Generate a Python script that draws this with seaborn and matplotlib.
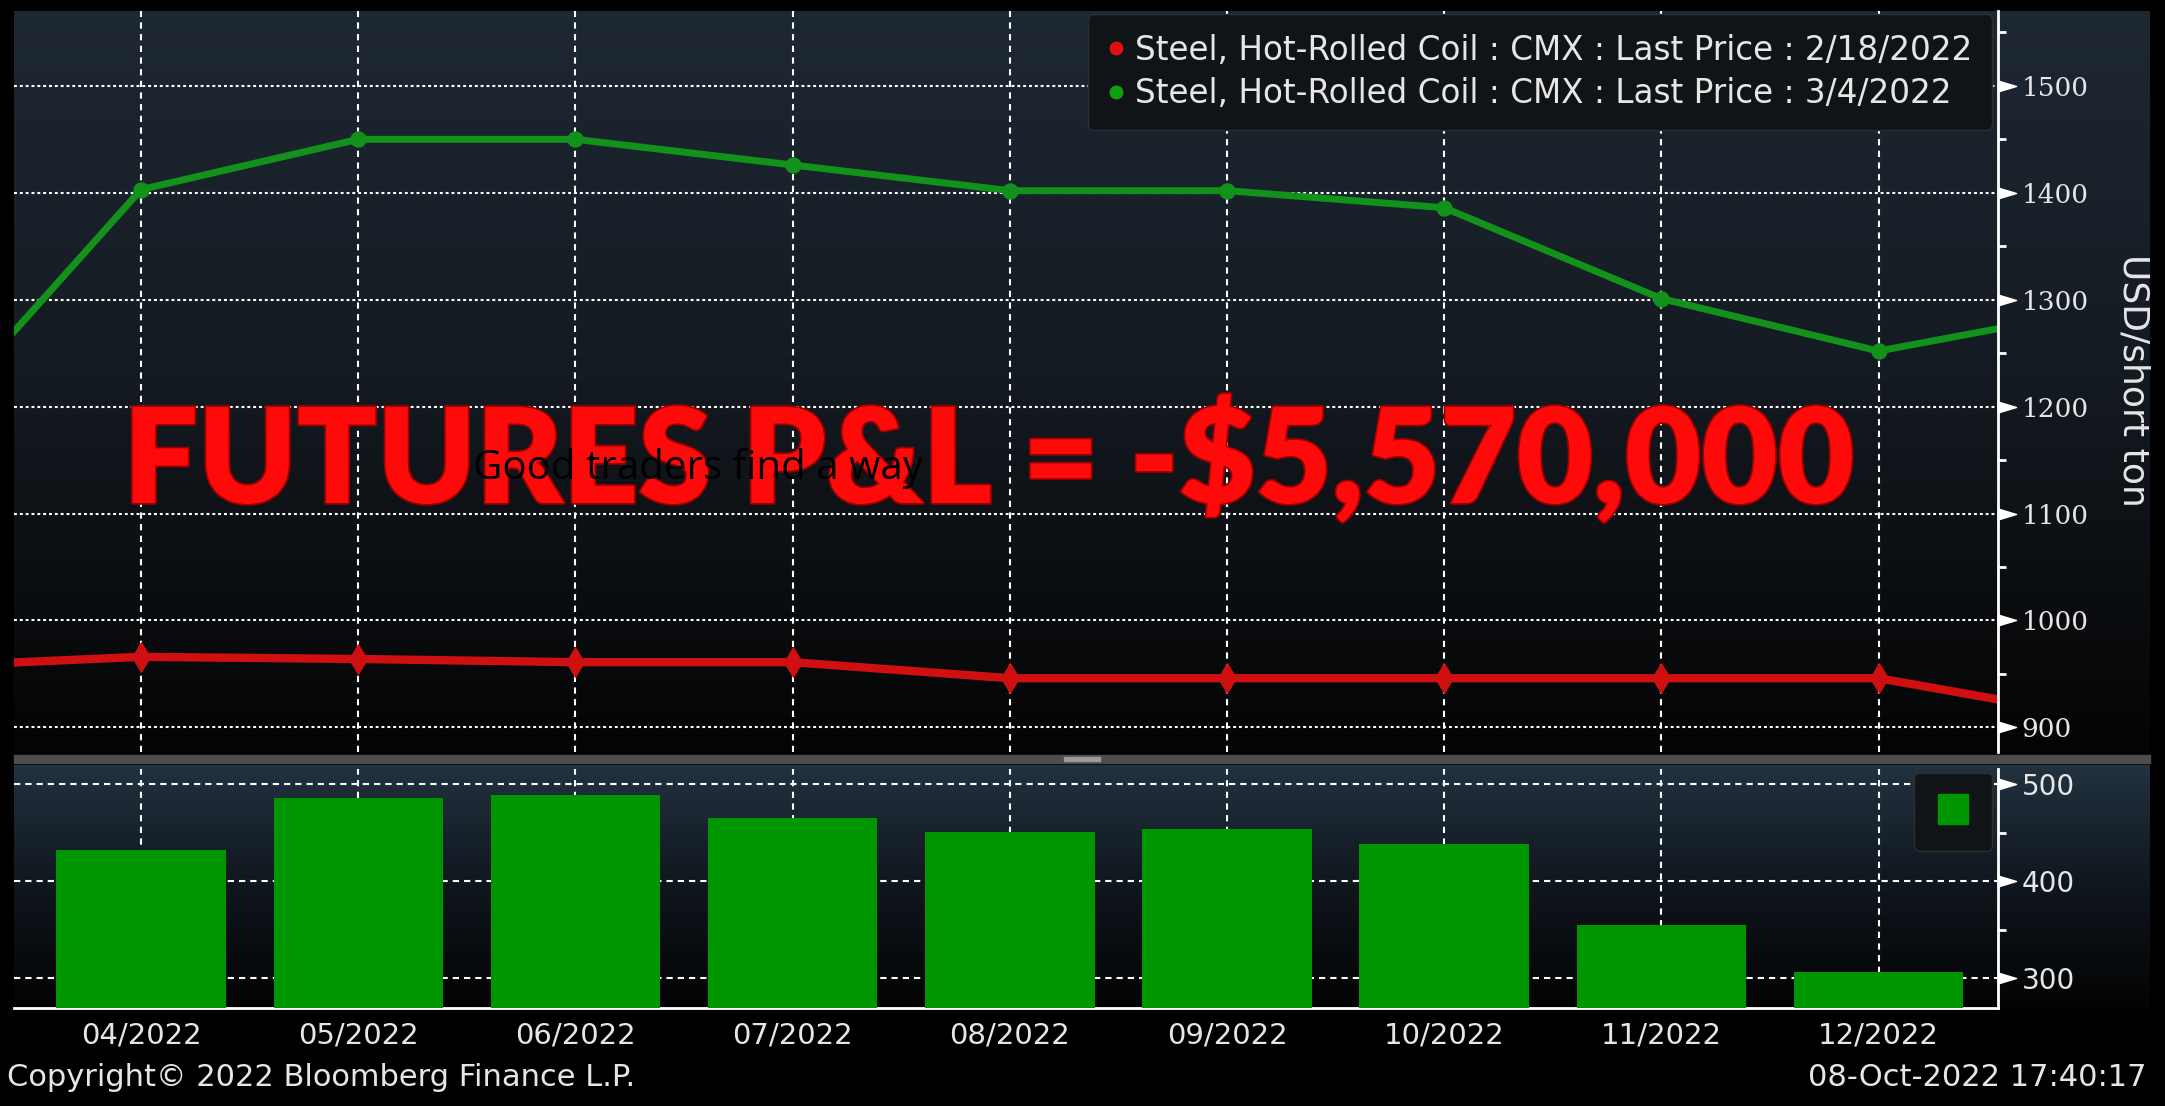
import numpy as np
import pandas as pd
import matplotlib
matplotlib.use("Agg")
import matplotlib.pyplot as plt
import matplotlib.patheffects as pe
import seaborn as sns
from matplotlib.path import Path
from matplotlib.lines import Line2D
from matplotlib.patches import Rectangle
from matplotlib.colors import LinearSegmentedColormap
from matplotlib.transforms import blended_transform_factory

# ---- data ----
contract_months = ["03/2022", "04/2022", "05/2022", "06/2022", "07/2022", "08/2022",
                   "09/2022", "10/2022", "11/2022", "12/2022", "01/2023"]
price_feb18 = [957, 966, 964, 961, 961, 946, 946, 946, 946, 946, 910]
price_mar4 = [1176, 1403, 1450, 1450, 1426, 1402, 1402, 1386, 1301, 1252, 1290]

bar_months = ["04/2022", "05/2022", "06/2022", "07/2022", "08/2022",
              "09/2022", "10/2022", "11/2022", "12/2022"]
spread = [432, 486, 489, 465, 451, 454, 438, 355, 306]

top_ticks = [900, 1000, 1100, 1200, 1300, 1400, 1500]
top_minor = [950, 1050, 1150, 1250, 1350, 1450, 1550]
low_ticks = [300, 400, 500]
low_minor = [350, 450]

legend_labels = ["Steel, Hot-Rolled Coil : CMX : Last Price : 2/18/2022",
                 "Steel, Hot-Rolled Coil : CMX : Last Price : 3/4/2022"]

RED = "#d01010"
GREEN = "#12921a"
BAR_GREEN = "#009600"
TXT = "#e6e6e6"

sns.set_theme(style="dark")
plt.rcParams["font.family"] = ["DejaVu Sans"]

W, H = 2165, 1106
fig = plt.figure(figsize=(W / 100, H / 100), dpi=100, facecolor="black")

# background: gradients + separator, in pixel coords
bg = fig.add_axes([0, 0, 1, 1], zorder=-10)
bg.axis("off")
ramp = np.linspace(0, 1, 256).reshape(-1, 1)
cm_top = LinearSegmentedColormap.from_list("t", ["#1e2833", "#141a21", "#040404"])
cm_low = LinearSegmentedColormap.from_list("l", ["#223240", "#0f161d", "#030303"])
bg.imshow(ramp, extent=(14, 2150, 752, 11), cmap=cm_top, aspect="auto",
          origin="upper", zorder=0)
bg.imshow(ramp, extent=(14, 2150, 1009, 765), cmap=cm_low, aspect="auto",
          origin="upper", zorder=0)
bg.add_patch(Rectangle((14, 755), 2136, 8, color="#4d4d4d", zorder=2))
bg.add_patch(Rectangle((1064, 757), 36, 4, color="#9a9a9a", zorder=3))
bg.set_xlim(0, W)
bg.set_ylim(H, 0)

left = 14 / W
width = (1998 - 14) / W
ax1 = fig.add_axes([left, 1 - 752 / H, width, (752 - 11) / H])
ax2 = fig.add_axes([left, 1 - 1008 / H, width, (1008 - 769) / H])
for ax in (ax1, ax2):
    ax.set_facecolor("none")
    for s in ax.spines.values():
        s.set_visible(False)
    ax.spines["right"].set_visible(True)
    ax.spines["right"].set_color("white")
    ax.spines["right"].set_linewidth(2)
    ax.set_axisbelow(True)

xidx = np.arange(len(contract_months)) - 1
df = pd.DataFrame({"idx": xidx, "feb": price_feb18, "mar": price_mar4})

# ---- top panel: two futures curves ----
sns.lineplot(data=df, x="idx", y="feb", ax=ax1, color=RED, linewidth=6,
             marker="d", markersize=15, markeredgecolor=RED, legend=False)
sns.lineplot(data=df, x="idx", y="mar", ax=ax1, color=GREEN, linewidth=5,
             marker="o", markersize=11, markeredgecolor=GREEN, legend=False)

xlim = (-0.585, 8.55)
ax1.set_xlim(*xlim)
ax1.set_ylim(877, 1570)
ax1.set_xticks(range(len(bar_months)))
ax1.set_xticklabels([])
ax1.set_xlabel("")
ax1.set_ylabel("")
ax1.yaxis.tick_right()
ax1.set_yticks(top_ticks)
ax1.set_yticks(top_minor, minor=True)
ax1.tick_params(axis="x", length=0)
ax1.tick_params(axis="y", which="major", length=0, pad=17, labelsize=19,
                labelcolor=TXT)
ax1.tick_params(axis="y", which="minor", length=6, width=2, color="white",
                direction="out")
for lab in ax1.get_yticklabels():
    lab.set_family("DejaVu Serif")
ax1.yaxis.grid(True, color="white", linestyle=(0, (1.4, 1.4)), linewidth=1.5)
ax1.xaxis.grid(True, color="white", linestyle=(0, (3, 2.6)), linewidth=1.5)

handles = [Line2D([], [], ls="none", marker="o", ms=9, color="#e01010"),
           Line2D([], [], ls="none", marker="o", ms=9, color="#10a010")]
leg = ax1.legend(handles, legend_labels, loc="upper right",
                 bbox_to_anchor=(0.997, 0.996), borderaxespad=0, fontsize=23.5,
                 labelcolor=TXT, facecolor="#111417", edgecolor="#2b2f34",
                 framealpha=1, handlelength=0.5, handletextpad=0.35,
                 labelspacing=0.32, borderpad=0.6, fancybox=True)

# ---- lower panel: spread bars ----
sns.barplot(x=bar_months, y=spread, ax=ax2, color=BAR_GREEN, saturation=1,
            width=0.78, edgecolor=BAR_GREEN, linewidth=0, zorder=3)
ax2.set_xlim(*xlim)
ax2.set_ylim(269, 516)
ax2.set_xlabel("")
ax2.set_ylabel("")
ax2.yaxis.tick_right()
ax2.set_yticks(low_ticks)
ax2.set_yticks(low_minor, minor=True)
ax2.spines["bottom"].set_visible(True)
ax2.spines["bottom"].set_color("white")
ax2.spines["bottom"].set_linewidth(2)
ax2.tick_params(axis="x", length=8, width=1.5, color="white", direction="inout",
                labelsize=21, labelcolor=TXT, pad=6)
ax2.tick_params(axis="y", which="major", length=0, pad=17, labelsize=20,
                labelcolor=TXT)
ax2.tick_params(axis="y", which="minor", length=6, width=2, color="white",
                direction="out")
ax2.yaxis.grid(True, color="white", linestyle=(0, (3, 2.4)), linewidth=1.5)
ax2.xaxis.grid(True, color="white", linestyle=(0, (3, 2.6)), linewidth=1.5)
ax2.legend([Line2D([], [], ls="none", marker="s", ms=21, color=BAR_GREEN)], [""],
           loc="upper right", bbox_to_anchor=(0.997, 0.985), borderaxespad=0,
           facecolor="#111417", edgecolor="#2b2f34", framealpha=1,
           handlelength=1.0, handleheight=1.0, handletextpad=0, borderpad=0.9,
           fontsize=20)

# arrow-shaped major ticks on the right spine
arrow = Path([(0, -0.3), (0, 0.3), (1, 0), (0, -0.3)],
             [Path.MOVETO, Path.LINETO, Path.LINETO, Path.CLOSEPOLY])
for ax, ticks in ((ax1, top_ticks), (ax2, low_ticks)):
    tr = blended_transform_factory(ax.transAxes, ax.transData)
    ax.plot(np.ones(len(ticks)), ticks, transform=tr, ls="none", marker=arrow,
            markersize=26, color="white", clip_on=False, zorder=5)

# ---- texts ----
fig.text(2133 / W, 1 - 380 / H, "USD/short ton", rotation=270, ha="center",
         va="center", fontsize=26, color=TXT)
fig.text(7 / W, 1 - 1077 / H, "Copyright\u00a9 2022 Bloomberg Finance L.P.",
         ha="left", va="center", fontsize=22, color=TXT)
fig.text(2147 / W, 1 - 1077 / H, "08-Oct-2022 17:40:17", ha="right",
         va="center", fontsize=22, color=TXT)

big = fig.text(989 / W, 1 - 503 / H, "FUTURES P&L = -$5,570,000", ha="center",
               va="baseline", fontsize=95, fontweight="heavy", color="#ff0a0a",
               family=["Lato", "DejaVu Sans"], zorder=20)
big.set_path_effects([pe.withStroke(linewidth=2.5, foreground="#9a0000")])
fig.text(698 / W, 1 - 479 / H, "Good traders find a way", ha="center",
         va="baseline", fontsize=29, color="black",
         family=["Open Sans", "DejaVu Sans"], zorder=21)

fig.savefig("out.png", dpi=100, facecolor="black")
